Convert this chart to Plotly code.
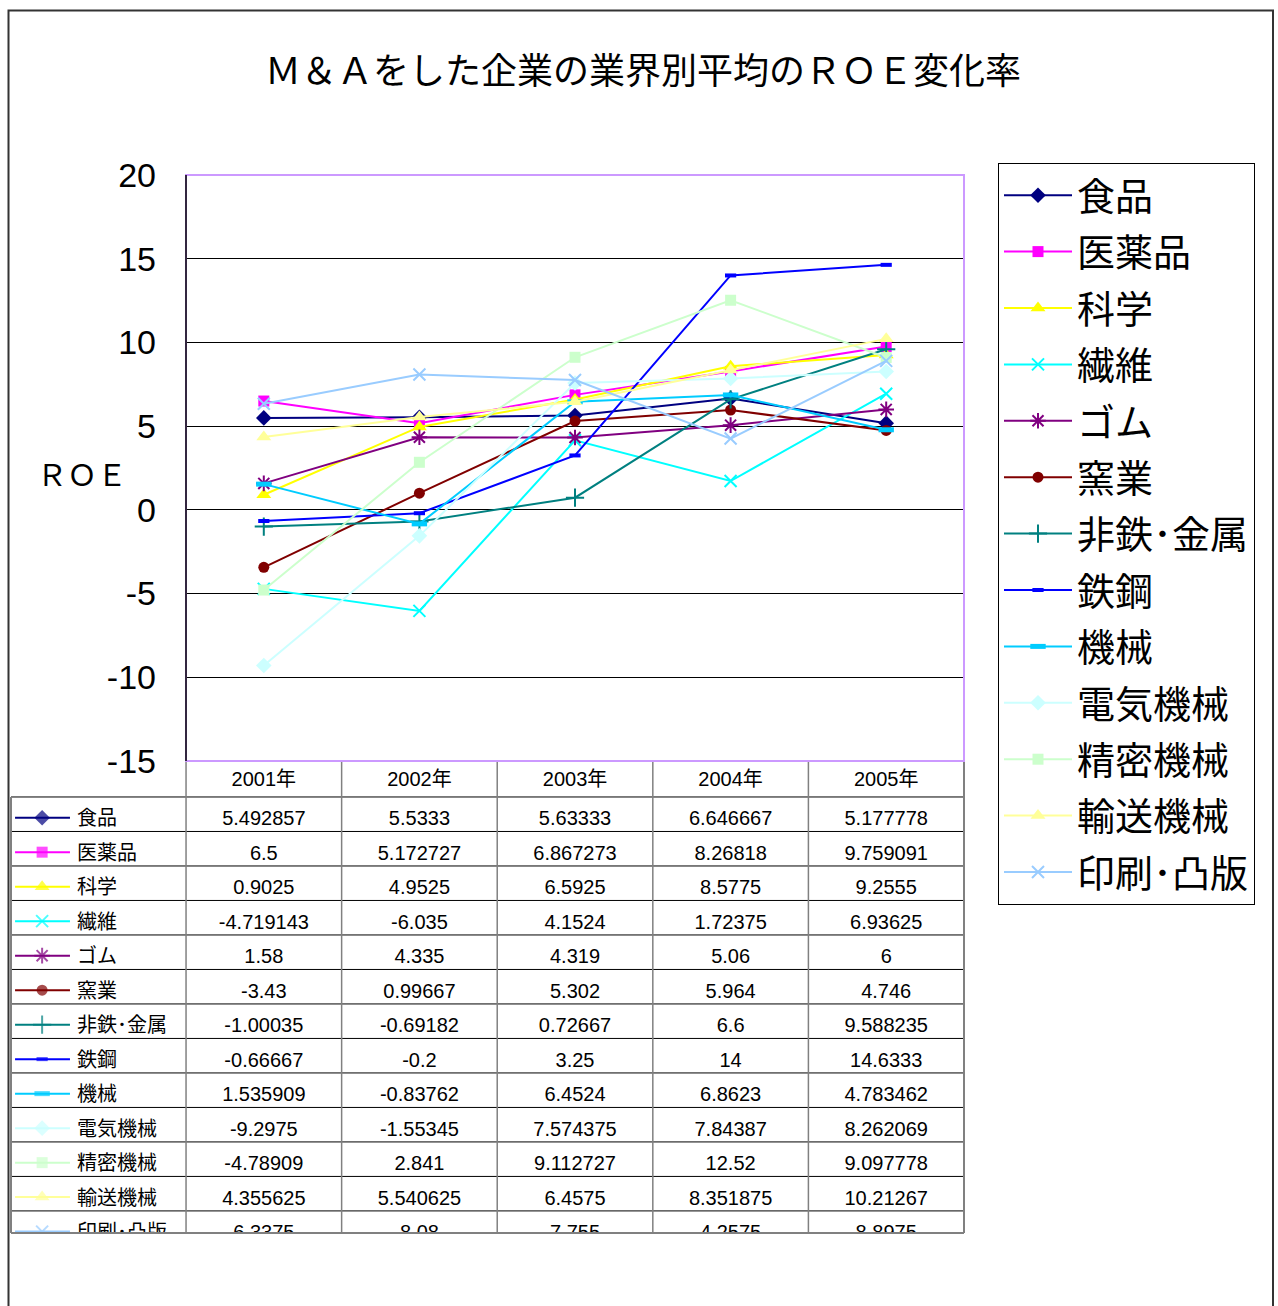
import plotly.graph_objects as go

# ---------------- data ----------------
years = ["2001年", "2002年", "2003年", "2004年", "2005年"]
names = ["食品", "医薬品", "科学", "繊維", "ゴム", "窯業", "非鉄･金属",
         "鉄鋼", "機械", "電気機械", "精密機械", "輸送機械", "印刷･凸版"]

shokuhin = [5.492857, 5.5333, 5.63333, 6.646667, 5.177778]
iyakuhin = [6.5, 5.172727, 6.867273, 8.26818, 9.759091]
kagaku = [0.9025, 4.9525, 6.5925, 8.5775, 9.2555]
seni = [-4.719143, -6.035, 4.1524, 1.72375, 6.93625]
gomu = [1.58, 4.335, 4.319, 5.06, 6]
yogyo = [-3.43, 0.99667, 5.302, 5.964, 4.746]
hitetsu = [-1.00035, -0.69182, 0.72667, 6.6, 9.588235]
tekko = [-0.66667, -0.2, 3.25, 14, 14.6333]
kikai = [1.535909, -0.83762, 6.4524, 6.8623, 4.783462]
denki = [-9.2975, -1.55345, 7.574375, 7.84387, 8.262069]
seimitsu = [-4.78909, 2.841, 9.112727, 12.52, 9.097778]
yuso = [4.355625, 5.540625, 6.4575, 8.351875, 10.21267]
insatsu = [6.3375, 8.08, 7.755, 4.2575, 8.8975]

series = [shokuhin, iyakuhin, kagaku, seni, gomu, yogyo, hitetsu,
          tekko, kikai, denki, seimitsu, yuso, insatsu]

y_ticks = [20, 15, 10, 5, 0, -5, -10, -15]
y_ticktext = ["20", "15", "10", "5", "0", "-5", "-10", "-15"]

# ---------------- styles ----------------
# (color, symbol, size, marker line width)
styles = [
    ("#000080", "diamond", 12, 0),
    ("#FF00FF", "square", 11, 0),
    ("#FFFF00", "triangle-up", 13, 0),
    ("#00FFFF", "x-thin", 12, 2),
    ("#800080", "asterisk", 13, 2),
    ("#800000", "circle", 11, 0),
    ("#008080", "cross-thin", 13, 2),
    ("#0000FF", "line-ew", 8, 4),
    ("#00CCFF", "line-ew", 11, 5),
    ("#CCFFFF", "diamond", 12, 0),
    ("#CCFFCC", "square", 11, 0),
    ("#FFFF99", "triangle-up", 13, 0),
    ("#99CCFF", "x-thin", 12, 2),
]

W, H = 1278, 1306
CJK = "Noto Sans CJK JP"
NUM = "Liberation Sans, Arial, Noto Sans CJK JP"


def px(xp):
    return xp / W


def py(yp):
    return 1 - yp / H


fig = go.Figure()

# main chart lines
for i, (nm, vals) in enumerate(zip(names, series)):
    col, sym, sz, mlw = styles[i]
    fig.add_trace(go.Scatter(
        x=years, y=vals, name=nm, mode="lines+markers",
        line=dict(color=col, width=2),
        marker=dict(symbol=sym, size=sz, color=col,
                    line=dict(color=col, width=mlw)),
        legendgroup=f"g{i}", xaxis="x", yaxis="y",
    ))

# ---------------- data table (second axes) ----------------
ncols = len(years)
nrows = len(names)
label_w = 1.125  # label column width in data-column units
key_x0, key_xm, key_x1 = -0.5 - label_w + 0.026, -0.5 - label_w + 0.2, -0.5 - label_w + 0.379
label_x = -0.5 - label_w + 0.424

# row keys
for i, nm in enumerate(names):
    col, sym, sz, mlw = styles[i]
    fig.add_trace(go.Scatter(
        x=[key_x0, key_xm, key_x1], y=[i + 0.1] * 3, mode="lines+markers",
        line=dict(color=col, width=2),
        marker=dict(symbol=sym, size=[0, sz, 0], color=col,
                    line=dict(color=col, width=mlw)),
        showlegend=False, hoverinfo="skip", xaxis="x2", yaxis="y2",
    ))

# row labels
fig.add_trace(go.Scatter(
    x=[label_x] * nrows, y=[i + 0.17 for i in range(nrows)], text=names,
    mode="text", textposition="middle right",
    textfont=dict(family=CJK, size=20, color="#000"),
    showlegend=False, hoverinfo="skip", xaxis="x2", yaxis="y2",
))

# header
fig.add_trace(go.Scatter(
    x=list(range(ncols)), y=[-1 + 0.05] * ncols, text=years, mode="text",
    textposition="middle center",
    textfont=dict(family=NUM, size=20, color="#000"),
    showlegend=False, hoverinfo="skip", xaxis="x2", yaxis="y2",
))

# values
vx, vy, vt = [], [], []
for i, vals in enumerate(series):
    for j, v in enumerate(vals):
        vx.append(j)
        vy.append(i + 0.17)
        vt.append(str(v))
fig.add_trace(go.Scatter(
    x=vx, y=vy, text=vt, mode="text", textposition="middle center",
    textfont=dict(family=NUM, size=20, color="#000"),
    showlegend=False, hoverinfo="skip", xaxis="x2", yaxis="y2",
))

shapes = []
# horizontal row lines
for i in range(nrows):
    shapes.append(dict(type="line", xref="x2", yref="y2",
                       x0=-0.5 - label_w, x1=4.5, y0=i - 0.5, y1=i - 0.5,
                       line=dict(color="#000", width=1)))
# vertical column lines
for j in range(ncols):
    shapes.append(dict(type="line", xref="x2", yref="y2",
                       x0=j - 0.5, x1=j - 0.5, y0=-1.6, y1=13,
                       line=dict(color="#808080", width=1.5)))
# table outer edges (paper)
shapes += [
    dict(type="line", xref="paper", yref="paper", x0=px(964), x1=px(964),
         y0=py(761), y1=py(1233), line=dict(color="#808080", width=2)),
    dict(type="line", xref="paper", yref="paper", x0=px(11), x1=px(11),
         y0=py(797), y1=py(1233), line=dict(color="#808080", width=2)),
    dict(type="line", xref="paper", yref="paper", x0=px(11), x1=px(964),
         y0=py(1233), y1=py(1233), line=dict(color="#808080", width=2)),
    # plot area border
    dict(type="rect", xref="paper", yref="paper", x0=px(186), x1=px(964),
         y0=py(761), y1=py(175), line=dict(color="#CC99FF", width=2)),
    dict(type="line", xref="paper", yref="paper", x0=px(186), x1=px(186),
         y0=py(761), y1=py(175), line=dict(color="#000", width=1.5)),
    # outer chart frame
    dict(type="rect", xref="paper", yref="paper", x0=px(8.5), x1=px(1273),
         y0=py(1320), y1=py(10.5), line=dict(color="#333", width=2)),
]

fig.update_layout(
    width=W, height=H,
    margin=dict(l=0, r=0, t=0, b=0, pad=0, autoexpand=False),
    paper_bgcolor="white", plot_bgcolor="white",
    xaxis=dict(domain=[px(186), px(964)], type="category", range=[-0.5, 4.5],
               showticklabels=False, showgrid=False, zeroline=False,
               ticks="", showline=False, automargin=False),
    yaxis=dict(domain=[py(761), py(175)], range=[-15, 20],
               tickvals=y_ticks, ticktext=y_ticktext,
               ticks="inside", ticklen=10, tickcolor="#000",
               showgrid=True, gridcolor="#000", gridwidth=1, zeroline=False,
               tickfont=dict(family=NUM, size=34, color="#000"),
               ticklabelstandoff=29, showline=False, automargin=False),
    xaxis2=dict(domain=[px(11), px(964)], range=[-0.5 - label_w, 4.5],
                visible=False, anchor="y2", automargin=False),
    yaxis2=dict(domain=[py(1233), py(761)], range=[12.14, -1.543],
                visible=False, anchor="x2", automargin=False),
    shapes=shapes,
    legend=dict(x=px(998), y=py(163), xanchor="left", yanchor="top",
                bgcolor="white", bordercolor="#000", borderwidth=1,
                font=dict(family=CJK, size=38, color="#000"),
                tracegroupgap=4, itemwidth=68),
    annotations=[
        dict(text="Ｍ＆Ａをした企業の業界別平均のＲＯＥ変化率", x=px(643), y=py(68),
             xref="paper", yref="paper", showarrow=False,
             xanchor="center", yanchor="middle",
             font=dict(family=CJK, size=36, color="#000")),
        dict(text="ＲＯＥ", x=px(82), y=py(473), xref="paper", yref="paper",
             showarrow=False, xanchor="center", yanchor="middle",
             font=dict(family=CJK, size=30, color="#000")),
    ],
    showlegend=True,
)

fig.write_html("out.html")
